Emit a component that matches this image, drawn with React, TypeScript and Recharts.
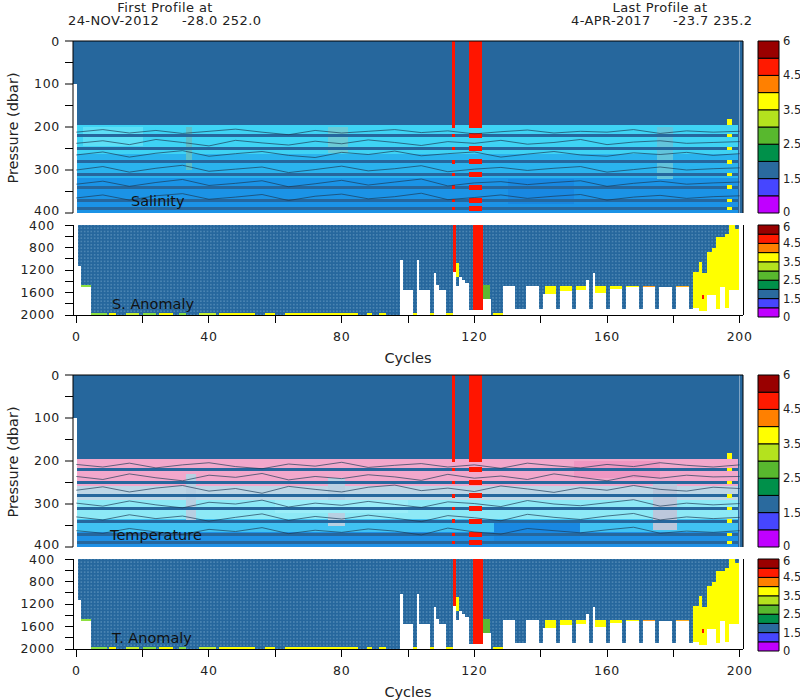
import React from 'react';
import { ComposedChart, BarChart, Bar, Line, XAxis, YAxis, ReferenceArea } from 'recharts';

const FONT = '"DejaVu Sans", Verdana, sans-serif';
const TXT = '#222';
const DARK = '#26679d';
const RED = '#ff1500';
const YEL = '#ffff00';

// axes
const xTicks = [0, 20, 40, 60, 80, 100, 120, 140, 160, 180, 200];
const pTicksTop = [0, 50, 100, 150, 200, 250, 300, 350, 400];
const pTicksAnom = [400, 600, 800, 1000, 1200, 1400, 1600, 1800, 2000];

// upper panels: dark stripes inside the 200-400 dbar layer (centre pressure)
const stripeCenters = [220, 250, 281, 311, 340, 371, 389];
const layerTop = 196;

// colour layers [p0, p1, colour]
const salBands: [number, number, string][] = [
  [196, 262, '#3fd3f4'],
  [262, 318, '#2ab3ee'],
  [318, 400, '#1b93e6'],
];
const tempBands: [number, number, string][] = [
  [196, 258, '#f2a7cb'],
  [258, 290, '#bdd6e6'],
  [290, 336, '#8de9f6'],
  [336, 366, '#40c2f2'],
  [366, 400, '#1e90e6'],
];
// local patches [c0, c1, p0, p1, colour]
const salPatches: [number, number, number, number, string][] = [
  [2, 20, 200, 245, '#5ddff6'],
  [33, 35, 200, 300, '#5fbfc8'],
  [76, 82, 200, 260, '#6ccbd6'],
  [130, 150, 320, 380, '#1888e2'],
  [175, 180, 200, 320, '#62c4dc'],
];
const tempPatches: [number, number, number, number, string][] = [
  [33, 36, 230, 340, '#b8d0e2'],
  [76, 81, 240, 350, '#b8d0e2'],
  [150, 176, 200, 240, '#ef97c2'],
  [126, 152, 340, 390, '#1988e2'],
  [174, 181, 250, 360, '#bcc8dc'],
  [60, 100, 290, 320, '#9aedf8'],
];

// red (flagged) columns in upper panels [c0, c1, half-height of blocks in layer]
const redCols: [number, number, number][] = [
  [113.3, 114.3, 4],
  [118.3, 122.3, 6],
];
// yellow flags at right edge of upper panels
const yelCol: [number, number] = [196.2, 197.7];

// contour lines (dbar) every 8 cycles
const contourCycles = [0, 8, 16, 24, 32, 40, 48, 56, 64, 72, 80, 88, 96, 104, 112, 120, 128, 136, 144, 152, 160, 168, 176, 184, 192, 200];
const salC1 = [212, 206, 214, 208, 215, 210, 205, 212, 218, 208, 214, 210, 206, 213, 209, 216, 211, 207, 214, 210, 212, 206, 215, 209, 212, 210];
const salC2 = [238, 232, 241, 229, 236, 244, 231, 237, 242, 233, 239, 230, 236, 243, 234, 238, 231, 240, 236, 229, 241, 235, 232, 238, 236, 234];
const salC3 = [265, 258, 270, 261, 255, 268, 262, 257, 266, 271, 259, 264, 256, 267, 262, 258, 270, 263, 257, 265, 268, 260, 264, 259, 266, 262];
const salC4 = [300, 292, 305, 296, 289, 303, 298, 293, 306, 299, 291, 302, 297, 290, 304, 298, 294, 301, 296, 292, 305, 299, 293, 300, 297, 295];
const salC5 = [333, 326, 338, 329, 322, 336, 331, 325, 339, 332, 324, 335, 328, 321, 337, 330, 327, 334, 329, 325, 338, 331, 326, 333, 330, 328];
const salC6 = [365, 358, 370, 360, 355, 368, 363, 357, 371, 361, 356, 367, 362, 354, 369, 364, 358, 366, 361, 357, 370, 363, 359, 366, 362, 360];
const temC1 = [208, 214, 205, 216, 209, 204, 213, 218, 207, 212, 203, 215, 210, 206, 214, 209, 217, 205, 211, 216, 208, 213, 204, 210, 214, 209];
const temC2 = [236, 243, 230, 239, 246, 233, 238, 229, 244, 236, 241, 232, 237, 245, 231, 240, 235, 243, 230, 238, 246, 234, 240, 233, 237, 236];
const temC3 = [268, 260, 272, 263, 257, 270, 264, 275, 259, 266, 272, 261, 256, 269, 263, 271, 258, 265, 273, 262, 268, 257, 266, 270, 261, 264];
const temC4 = [298, 305, 293, 302, 309, 296, 300, 291, 307, 298, 303, 294, 301, 308, 295, 299, 306, 292, 300, 304, 297, 290, 305, 298, 302, 299];
const temC5 = [330, 337, 325, 334, 328, 340, 331, 323, 338, 329, 335, 326, 333, 341, 327, 332, 339, 324, 331, 336, 328, 322, 337, 330, 334, 331];
const temC6 = [362, 368, 357, 365, 371, 359, 364, 355, 369, 361, 366, 358, 363, 372, 356, 365, 370, 357, 362, 367, 360, 354, 368, 363, 366, 362];

// anomaly panels: data columns [cycle start, cycle end, deepest pressure]
const anomCols: [number, number, number][] = [
  [0.4, 1.4, 1130], [1.4, 4.5, 1500], [4.5, 97.6, 2000], [97.6, 98.4, 1020],
  [98.4, 101.4, 1555], [101.4, 102.6, 2000], [102.6, 103.2, 1020], [103.2, 106.5, 1555],
  [106.5, 107.7, 2000], [107.7, 108.5, 1250], [108.5, 109.3, 1470], [109.3, 111.5, 1555],
  [111.5, 113.5, 2000], [113.5, 114.5, 1230], [114.5, 115.4, 1480], [115.4, 116.2, 1330],
  [116.2, 117.3, 1380], [117.3, 118.5, 1430], [118.5, 119.5, 1910], [119.5, 122.5, 1910],
  [122.5, 125.0, 1720], [125.0, 128.7, 2000], [128.7, 132.3, 1480],
  [132.3, 135.5, 1900], [135.5, 139.5, 1480], [139.5, 140.8, 1900], [140.8, 144.6, 1620],
  [144.6, 145.8, 1900], [145.8, 149.5, 1580], [149.5, 150.7, 1900], [150.7, 153.6, 1560],
  [153.6, 154.5, 1380], [154.5, 155.7, 1900], [155.7, 156.4, 1260], [156.4, 159.6, 1600],
  [159.6, 160.8, 1900], [160.8, 164.6, 1540], [164.6, 165.8, 1900], [165.8, 169.6, 1510],
  [169.6, 170.8, 1900], [170.8, 174.6, 1500], [174.6, 175.8, 1900], [175.8, 179.6, 1500],
  [179.6, 180.8, 1900], [180.8, 184.6, 1500], [184.6, 185.8, 1900], [185.8, 187.7, 1880],
  [187.7, 188.7, 1920], [188.7, 190.0, 1920], [190.0, 191.6, 1650], [191.6, 193.0, 1650],
  [193.0, 194.2, 1900], [194.2, 195.7, 1500], [195.7, 196.7, 1880], [196.7, 198.7, 1555],
  [198.7, 199.7, 1555],
];
// coloured anomaly values [c0, c1, p0, p1, colour]
const anomPatches: [number, number, number, number, string][] = [
  [1.4, 4.5, 1475, 1500, '#8ee040'],
  [4.5, 9.3, 1965, 2000, '#8ee040'], [10, 12, 1965, 2000, YEL], [15, 19, 1965, 2000, '#c8f030'],
  [20, 24, 1965, 2000, '#8ee040'], [25, 29, 1965, 2000, YEL], [31, 33, 1965, 2000, '#8ee040'],
  [37, 42, 1965, 2000, '#c8f030'], [43, 54, 1965, 2000, YEL], [57, 60, 1965, 2000, YEL],
  [63, 85, 1965, 2000, YEL], [87.5, 89, 1965, 2000, YEL], [91.4, 93.5, 1965, 2000, YEL],
  [101.4, 102.6, 1965, 2000, YEL], [106.5, 107.7, 1965, 2000, YEL], [111.5, 113.5, 1965, 2000, YEL],
  [125.5, 128.7, 1965, 2000, YEL],
  [113.5, 114.5, 400, 1230, RED], [119.5, 122.5, 400, 1910, RED],
  [114.5, 115.5, 1075, 1320, YEL], [122.5, 124.7, 1470, 1720, '#5cb832'],
  [141.3, 144.6, 1480, 1620, YEL], [145.8, 149.5, 1480, 1580, YEL], [150.7, 153.6, 1480, 1560, YEL],
  [156.4, 159.6, 1480, 1600, YEL], [160.8, 164.6, 1480, 1530, YEL], [165.8, 169.6, 1480, 1505, YEL],
  [170.8, 174.6, 1480, 1500, '#ffa020'], [180.8, 184.6, 1480, 1500, '#ffb020'],
  [185.8, 187.7, 1230, 1880, YEL], [187.7, 188.7, 1060, 1920, YEL], [188.7, 190.0, 1250, 1920, YEL],
  [190.0, 191.6, 880, 1650, YEL], [191.6, 193.0, 810, 1650, YEL], [193.0, 194.2, 610, 1900, YEL],
  [194.2, 195.7, 610, 1500, YEL], [195.7, 196.7, 560, 1880, YEL], [196.7, 198.7, 400, 1555, YEL],
  [198.7, 199.7, 470, 1555, YEL], [188.5, 189.3, 1640, 1720, RED],
];

// colour bar (bottom to top) and its labels
const cbColors = ['#c000ff', '#4646ff', '#2a6a9e', '#00904a', '#58b82e', '#b4e21e', '#ffff00', '#ff8000', '#ff1a00', '#990000'];
const cbTickPos = [0, 2, 4, 6, 8, 10];
const cbTickLabels = ['0', '1.5', '2.5', '3.5', '4.5', '6'];

const CRISP: any = { shapeRendering: 'crispEdges' };

// tick label renderer: fmt gives the text, nudge moves a label vertically by a few px
function makeTick(fmt: (v: number) => string, nudge: (v: number) => number, size = 12.5, spacing = 0.7) {
  return (props: any) => {
    const { x, y, payload, textAnchor } = props;
    const v = payload.value;
    return (
      <text x={x} y={y + nudge(v)} dy="0.355em" textAnchor={textAnchor} fontSize={size} fill={TXT} fontFamily={FONT} letterSpacing={spacing}>
        {fmt(v)}
      </text>
    );
  };
}
const topYTick = makeTick((v) => (v % 100 === 0 ? String(v) : ''), (v) => (v === 400 ? -2 : v === 0 ? 1 : 0));
const anomYTick = makeTick((v) => (v % 400 === 0 ? String(v) : ''), (v) => (v === 400 ? 1 : 0));
const xTick = (props: any) => {
  const { x, y, payload } = props;
  const v = payload.value;
  return (
    <text x={x} y={y} dy="0.71em" textAnchor="middle" fontSize={12.5} fill={TXT} fontFamily={FONT} letterSpacing={0.7}>
      {v % 40 === 0 ? String(v) : ''}
    </text>
  );
};

function TopPanel({ top, bands, patches, contour }: any) {
  return (
    <div style={{ position: 'absolute', left: 0, top, width: 800, height: 230 }}>
      <ComposedChart width={800} height={230} data={contour} margin={{ top: 33, right: 47, bottom: 17, left: 0 }}>
        <XAxis type="number" dataKey="cycle" orientation="top" domain={[-1, 201]} ticks={xTicks} interval={0} tick={false} tickSize={9} height={8} stroke="#000" allowDataOverflow />
        <YAxis type="number" domain={[0, 400]} reversed ticks={pTicksTop} interval={0} allowDataOverflow
          width={73} tickSize={8} tickMargin={5} tick={topYTick} stroke="#000" />
        <YAxis yAxisId="r" orientation="right" type="number" domain={[0, 400]} reversed ticks={pTicksTop} interval={0} tick={false} width={10} tickSize={9} stroke="#000" />
        <ReferenceArea x1={-1} x2={201} y1={0} y2={400} fill={DARK} fillOpacity={1} {...CRISP} />
        <ReferenceArea x1={-1} x2={0.2} y1={100} y2={400} fill="#ffffff" fillOpacity={1} {...CRISP} />
        {bands.map((b: any, i: number) => (
          <ReferenceArea key={'b' + i} x1={0.2} x2={199.6} y1={b[0]} y2={b[1]} fill={b[2]} fillOpacity={1} {...CRISP} />
        ))}
        {patches.map((b: any, i: number) => (
          <ReferenceArea key={'p' + i} x1={b[0]} x2={b[1]} y1={b[2]} y2={b[3]} fill={b[4]} fillOpacity={1} {...CRISP} />
        ))}
        {stripeCenters.map((s, i) => (
          <ReferenceArea key={'s' + i} x1={0.2} x2={200} y1={s - 3.5} y2={s + 3.5} fill={DARK} fillOpacity={1} {...CRISP} />
        ))}
        <ReferenceArea x1={199.7} x2={200.2} y1={0} y2={400} fill="#7ea3c4" fillOpacity={1} {...CRISP} />
        {redCols.map((r, i) => (
          <ReferenceArea key={'r' + i} x1={r[0]} x2={r[1]} y1={0} y2={layerTop + 6} fill={RED} fillOpacity={1} {...CRISP} />
        ))}
        {redCols.map((r, i) => stripeCenters.map((s, j) => (
          <ReferenceArea key={'rs' + i + '-' + j} x1={r[0]} x2={r[1]} y1={s - r[2]} y2={s + r[2]} fill={RED} fillOpacity={1} {...CRISP} />
        )))}
        <ReferenceArea x1={yelCol[0]} x2={yelCol[1]} y1={182} y2={layerTop} fill={YEL} fillOpacity={1} {...CRISP} />
        {stripeCenters.map((s, j) => (
          <ReferenceArea key={'y' + j} x1={yelCol[0]} x2={yelCol[1]} y1={s - 4} y2={s + 4} fill={YEL} fillOpacity={1} {...CRISP} />
        ))}
        {['c1', 'c2', 'c3', 'c4', 'c5', 'c6'].map((k) => (
          <Line key={k} dataKey={k} type="linear" stroke="#1c3a55" strokeWidth={0.8} strokeOpacity={0.85} dot={false} activeDot={false} isAnimationActive={false} />
        ))}
      </ComposedChart>
    </div>
  );
}

function AnomPanel({ top, pid }: any) {
  const data = anomCols.map((c) => ({ cycle: c[0], depth: c[2] }));
  return (
    <div style={{ position: 'absolute', left: 0, top, width: 800, height: 160, shapeRendering: 'crispEdges' } as any}>
      <ComposedChart width={800} height={160} data={data} margin={{ top: 25, right: 47, bottom: 15, left: 0 }}>
        <defs>
          <pattern id={pid} width={3.32} height={3.32} patternUnits="userSpaceOnUse">
            <rect width={3.32} height={3.32} fill={DARK} />
            <rect x={1.2} y={1.2} width={1} height={1} fill="#4a84b2" />
          </pattern>
        </defs>
        <XAxis type="number" dataKey="cycle" domain={[-1, 201]} ticks={xTicks} interval={0} allowDataOverflow
          height={30} tickSize={8} tickMargin={9} tick={xTick} stroke="#000" />
        <YAxis type="number" domain={[400, 2000]} reversed ticks={pTicksAnom} interval={0} allowDataOverflow
          width={73} tickSize={8} tickMargin={10} tick={anomYTick} stroke="#000" />
        <YAxis yAxisId="r" orientation="right" type="number" domain={[400, 2000]} reversed ticks={pTicksAnom} interval={0} tick={false} width={10} tickSize={8} stroke="#000" />
        {anomCols.map((c, i) => (
          <ReferenceArea key={'a' + i} x1={c[0]} x2={c[1]} y1={400} y2={c[2]} fill={`url(#${pid})`} fillOpacity={1} {...CRISP} />
        ))}
        {anomPatches.map((c, i) => (
          <ReferenceArea key={'q' + i} x1={c[0]} x2={c[1]} y1={c[2]} y2={c[3]} fill={c[4]} fillOpacity={1} {...CRISP} />
        ))}
      </ComposedChart>
    </div>
  );
}

function ColorBar({ top, height, mTop, mBottom, nudgeTop, nudgeBottom }: any) {
  const row: any = { name: 'scale' };
  cbColors.forEach((_, i) => (row['b' + i] = 1));
  const tick = makeTick(
    (v) => cbTickLabels[cbTickPos.indexOf(v)],
    (v) => (v === 10 ? nudgeTop : v === 0 ? nudgeBottom : 0),
    11.5,
    0,
  );
  return (
    <div style={{ position: 'absolute', left: 750, top, width: 50, height }}>
      <BarChart width={50} height={height} data={[row]} margin={{ top: mTop, right: 0, bottom: mBottom, left: 8 }} barCategoryGap={0} barGap={0}>
        <XAxis hide dataKey="name" type="category" />
        <YAxis orientation="right" type="number" domain={[0, 10]} ticks={cbTickPos} width={21}
          axisLine={false} tickLine={false} tickSize={2} tickMargin={2} interval={0} tick={tick} />
        {cbColors.map((c, i) => (
          <Bar key={i} dataKey={'b' + i} stackId="a" fill={c} stroke="#000" strokeWidth={1} isAnimationActive={false} />
        ))}
      </BarChart>
    </div>
  );
}

function Group({ off, bands, patches, contour, name, anomName, pid }: any) {
  return (
    <>
      <TopPanel top={off} bands={bands} patches={patches} contour={contour} />
      <AnomPanel top={off + 200} pid={pid} />
      <ColorBar top={off} height={230} mTop={41} mBottom={17} nudgeTop={0} nudgeBottom={-1.5} />
      <ColorBar top={off + 200} height={130} mTop={25} mBottom={13} nudgeTop={1.5} nudgeBottom={0} />
      <svg width={800} height={370} style={{ position: 'absolute', left: 0, top: off, pointerEvents: 'none' }}>
        <text x={18} y={128} transform="rotate(-90 18 128)" textAnchor="middle" fontSize={14.5} fill={TXT} fontFamily={FONT}>Pressure (dbar)</text>
        <text x={name === 'Salinity' ? 131 : 110} y={206} fontSize={14.5} fill="#111" fontFamily={FONT}>{name}</text>
        <text x={112} y={309} fontSize={14.5} fill="#111" fontFamily={FONT}>{anomName}</text>
        <text x={408} y={363} textAnchor="middle" fontSize={14.5} fill={TXT} fontFamily={FONT}>Cycles</text>
      </svg>
    </>
  );
}

export default function App() {
  const salContour = contourCycles.map((c, i) => ({ cycle: c, c1: salC1[i], c2: salC2[i], c3: salC3[i], c4: salC4[i], c5: salC5[i], c6: salC6[i] }));
  const temContour = contourCycles.map((c, i) => ({ cycle: c, c1: temC1[i], c2: temC2[i], c3: temC3[i], c4: temC4[i], c5: temC5[i], c6: temC6[i] }));
  return (
    <div style={{ position: 'fixed', left: 0, top: 0, width: 800, height: 700, background: '#fff', overflow: 'hidden' }}>
      <Group off={0} bands={salBands} patches={salPatches} contour={salContour} name="Salinity" anomName="S. Anomaly" pid="dotsS" />
      <Group off={334} bands={tempBands} patches={tempPatches} contour={temContour} name="Temperature" anomName="T. Anomaly" pid="dotsT" />
      <svg width={800} height={30} style={{ position: 'absolute', left: 0, top: 0, pointerEvents: 'none' }}>
        <text x={165} y={12} textAnchor="middle" fontSize={13} fill={TXT} fontFamily={FONT} letterSpacing={0.4}>First Profile at</text>
        <text x={68} y={25} fontSize={13} fill={TXT} fontFamily={FONT} letterSpacing={0.4}>24-NOV-2012</text>
        <text x={182} y={25} fontSize={13} fill={TXT} fontFamily={FONT} letterSpacing={0.4}>-28.0 252.0</text>
        <text x={660} y={12} textAnchor="middle" fontSize={13} fill={TXT} fontFamily={FONT} letterSpacing={0.4}>Last Profile at</text>
        <text x={571} y={25} fontSize={13} fill={TXT} fontFamily={FONT} letterSpacing={0.4}>4-APR-2017</text>
        <text x={673} y={25} fontSize={13} fill={TXT} fontFamily={FONT} letterSpacing={0.4}>-23.7 235.2</text>
      </svg>
    </div>
  );
}
